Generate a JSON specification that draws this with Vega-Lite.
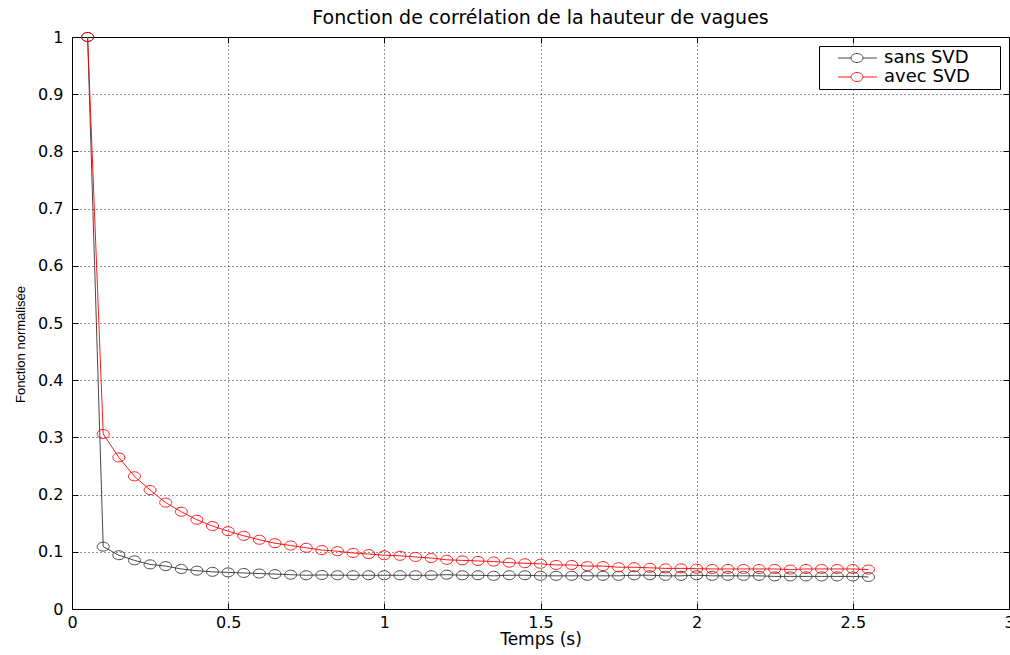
{
  "$schema": "https://vega.github.io/schema/vega-lite/v6.json",
  "width": 937,
  "height": 572,
  "autosize": "none",
  "padding": {"left": 72, "top": 37, "right": 1, "bottom": 46},
  "background": "white",
  "title": {"text": "Fonction de corrélation de la hauteur de vagues", "font": "DejaVu Sans", "fontSize": 19, "fontWeight": "normal", "color": "black", "offset": 1},
  "config": {
    "view": {"stroke": "black", "strokeWidth": 1},
    "axis": {"domainColor": "black", "tickColor": "black", "labelColor": "black", "titleColor": "black", "labelFont": "DejaVu Sans", "labelFontSize": 16, "titleFontWeight": "normal", "labelFlush": false, "labelOverlap": false}
  },
  "data": {"values": [
    {"t": 0.05, "v": 1.0, "s": "sans SVD"},
    {"t": 0.1, "v": 0.109, "s": "sans SVD"},
    {"t": 0.15, "v": 0.094, "s": "sans SVD"},
    {"t": 0.2, "v": 0.085, "s": "sans SVD"},
    {"t": 0.25, "v": 0.078, "s": "sans SVD"},
    {"t": 0.3, "v": 0.075, "s": "sans SVD"},
    {"t": 0.35, "v": 0.070, "s": "sans SVD"},
    {"t": 0.4, "v": 0.067, "s": "sans SVD"},
    {"t": 0.45, "v": 0.065, "s": "sans SVD"},
    {"t": 0.5, "v": 0.064, "s": "sans SVD"},
    {"t": 0.55, "v": 0.063, "s": "sans SVD"},
    {"t": 0.6, "v": 0.062, "s": "sans SVD"},
    {"t": 0.65, "v": 0.061, "s": "sans SVD"},
    {"t": 0.7, "v": 0.060, "s": "sans SVD"},
    {"t": 0.75, "v": 0.059, "s": "sans SVD"},
    {"t": 0.8, "v": 0.0595, "s": "sans SVD"},
    {"t": 0.85, "v": 0.059, "s": "sans SVD"},
    {"t": 0.9, "v": 0.059, "s": "sans SVD"},
    {"t": 0.95, "v": 0.059, "s": "sans SVD"},
    {"t": 1.0, "v": 0.059, "s": "sans SVD"},
    {"t": 1.05, "v": 0.059, "s": "sans SVD"},
    {"t": 1.1, "v": 0.059, "s": "sans SVD"},
    {"t": 1.15, "v": 0.059, "s": "sans SVD"},
    {"t": 1.2, "v": 0.060, "s": "sans SVD"},
    {"t": 1.25, "v": 0.059, "s": "sans SVD"},
    {"t": 1.3, "v": 0.059, "s": "sans SVD"},
    {"t": 1.35, "v": 0.058, "s": "sans SVD"},
    {"t": 1.4, "v": 0.059, "s": "sans SVD"},
    {"t": 1.45, "v": 0.059, "s": "sans SVD"},
    {"t": 1.5, "v": 0.058, "s": "sans SVD"},
    {"t": 1.55, "v": 0.058, "s": "sans SVD"},
    {"t": 1.6, "v": 0.058, "s": "sans SVD"},
    {"t": 1.65, "v": 0.058, "s": "sans SVD"},
    {"t": 1.7, "v": 0.058, "s": "sans SVD"},
    {"t": 1.75, "v": 0.058, "s": "sans SVD"},
    {"t": 1.8, "v": 0.059, "s": "sans SVD"},
    {"t": 1.85, "v": 0.059, "s": "sans SVD"},
    {"t": 1.9, "v": 0.058, "s": "sans SVD"},
    {"t": 1.95, "v": 0.058, "s": "sans SVD"},
    {"t": 2.0, "v": 0.059, "s": "sans SVD"},
    {"t": 2.05, "v": 0.058, "s": "sans SVD"},
    {"t": 2.1, "v": 0.058, "s": "sans SVD"},
    {"t": 2.15, "v": 0.058, "s": "sans SVD"},
    {"t": 2.2, "v": 0.058, "s": "sans SVD"},
    {"t": 2.25, "v": 0.057, "s": "sans SVD"},
    {"t": 2.3, "v": 0.057, "s": "sans SVD"},
    {"t": 2.35, "v": 0.057, "s": "sans SVD"},
    {"t": 2.4, "v": 0.057, "s": "sans SVD"},
    {"t": 2.45, "v": 0.057, "s": "sans SVD"},
    {"t": 2.5, "v": 0.057, "s": "sans SVD"},
    {"t": 2.55, "v": 0.056, "s": "sans SVD"},
    {"t": 0.05, "v": 1.0, "s": "avec SVD"},
    {"t": 0.1, "v": 0.306, "s": "avec SVD"},
    {"t": 0.15, "v": 0.265, "s": "avec SVD"},
    {"t": 0.2, "v": 0.232, "s": "avec SVD"},
    {"t": 0.25, "v": 0.208, "s": "avec SVD"},
    {"t": 0.3, "v": 0.186, "s": "avec SVD"},
    {"t": 0.35, "v": 0.170, "s": "avec SVD"},
    {"t": 0.4, "v": 0.156, "s": "avec SVD"},
    {"t": 0.45, "v": 0.145, "s": "avec SVD"},
    {"t": 0.5, "v": 0.136, "s": "avec SVD"},
    {"t": 0.55, "v": 0.128, "s": "avec SVD"},
    {"t": 0.6, "v": 0.121, "s": "avec SVD"},
    {"t": 0.65, "v": 0.115, "s": "avec SVD"},
    {"t": 0.7, "v": 0.111, "s": "avec SVD"},
    {"t": 0.75, "v": 0.107, "s": "avec SVD"},
    {"t": 0.8, "v": 0.103, "s": "avec SVD"},
    {"t": 0.85, "v": 0.101, "s": "avec SVD"},
    {"t": 0.9, "v": 0.098, "s": "avec SVD"},
    {"t": 0.95, "v": 0.096, "s": "avec SVD"},
    {"t": 1.0, "v": 0.094, "s": "avec SVD"},
    {"t": 1.05, "v": 0.093, "s": "avec SVD"},
    {"t": 1.1, "v": 0.091, "s": "avec SVD"},
    {"t": 1.15, "v": 0.089, "s": "avec SVD"},
    {"t": 1.2, "v": 0.086, "s": "avec SVD"},
    {"t": 1.25, "v": 0.085, "s": "avec SVD"},
    {"t": 1.3, "v": 0.084, "s": "avec SVD"},
    {"t": 1.35, "v": 0.083, "s": "avec SVD"},
    {"t": 1.4, "v": 0.081, "s": "avec SVD"},
    {"t": 1.45, "v": 0.080, "s": "avec SVD"},
    {"t": 1.5, "v": 0.079, "s": "avec SVD"},
    {"t": 1.55, "v": 0.077, "s": "avec SVD"},
    {"t": 1.6, "v": 0.077, "s": "avec SVD"},
    {"t": 1.65, "v": 0.075, "s": "avec SVD"},
    {"t": 1.7, "v": 0.075, "s": "avec SVD"},
    {"t": 1.75, "v": 0.073, "s": "avec SVD"},
    {"t": 1.8, "v": 0.073, "s": "avec SVD"},
    {"t": 1.85, "v": 0.072, "s": "avec SVD"},
    {"t": 1.9, "v": 0.071, "s": "avec SVD"},
    {"t": 1.95, "v": 0.071, "s": "avec SVD"},
    {"t": 2.0, "v": 0.0705, "s": "avec SVD"},
    {"t": 2.05, "v": 0.070, "s": "avec SVD"},
    {"t": 2.1, "v": 0.070, "s": "avec SVD"},
    {"t": 2.15, "v": 0.070, "s": "avec SVD"},
    {"t": 2.2, "v": 0.070, "s": "avec SVD"},
    {"t": 2.25, "v": 0.070, "s": "avec SVD"},
    {"t": 2.3, "v": 0.069, "s": "avec SVD"},
    {"t": 2.35, "v": 0.070, "s": "avec SVD"},
    {"t": 2.4, "v": 0.070, "s": "avec SVD"},
    {"t": 2.45, "v": 0.070, "s": "avec SVD"},
    {"t": 2.5, "v": 0.070, "s": "avec SVD"},
    {"t": 2.55, "v": 0.069, "s": "avec SVD"}
  ]},
  "encoding": {
    "color": {
      "field": "s", "type": "nominal",
      "scale": {"domain": ["sans SVD", "avec SVD"], "range": ["#333333", "#ff0000"]},
      "legend": {
        "title": null, "orient": "top-right", "offset": 9,
        "strokeColor": "black", "fillColor": "white", "padding": 3,
        "labelFont": "DejaVu Sans", "labelFontSize": 18, "labelColor": "black", "labelOffset": 44,
        "labelExpr": "datum.label + '\u2800\u2800'",
        "symbolType": "M0.875,0L2.5,0M4,0L5.75,0M2.5,0A0.75,0.5625 0 1,1 4,0A0.75,0.5625 0 1,1 2.5,0",
        "symbolSize": 256, "symbolStrokeWidth": 1, "symbolFillColor": "transparent", "rowPadding": 1
      }
    }
  },
  "layer": [
    {
      "mark": {"type": "line", "strokeWidth": 1, "opacity": 0.9},
      "encoding": {
        "x": {"field": "t", "type": "quantitative", "scale": {"domain": [0, 3], "nice": false},
          "axis": {"orient": "bottom", "values": [0, 0.5, 1, 1.5, 2, 2.5, 3], "format": "~g", "title": "Temps (s)", "titleFont": "DejaVu Sans", "titleFontSize": 17, "titlePadding": 1, "labelPadding": 11, "tickSize": -6, "grid": true, "gridColor": "black", "gridDash": [1, 3], "gridOpacity": 0.85}},
        "y": {"field": "v", "type": "quantitative", "scale": {"domain": [0, 1], "nice": false},
          "axis": {"orient": "left", "values": [0, 0.1, 0.2, 0.3, 0.4, 0.5, 0.6, 0.7, 0.8, 0.9, 1], "format": "~g", "title": "Fonction normalisée", "titleFont": "Liberation Sans", "titleFontSize": 13, "titleX": -52, "titleY": 307, "titleAngle": -90, "titleAlign": "center", "titleBaseline": "middle", "labelPadding": 15, "tickSize": -6, "grid": true, "gridColor": "black", "gridDash": [1, 3], "gridOpacity": 0.85}}
      }
    },
    {
      "mark": {"type": "point", "shape": "M-1,0A1,0.75 0 1,1 1,0A1,0.75 0 1,1 -1,0", "size": 144, "filled": false, "strokeWidth": 1, "opacity": 0.9},
      "encoding": {
        "x": {"field": "t", "type": "quantitative",
          "axis": {"orient": "top", "values": [0, 0.5, 1, 1.5, 2, 2.5, 3], "labels": false, "title": null, "tickSize": -6, "grid": false, "domain": false}},
        "y": {"field": "v", "type": "quantitative",
          "axis": {"orient": "right", "values": [0, 0.1, 0.2, 0.3, 0.4, 0.5, 0.6, 0.7, 0.8, 0.9, 1], "labels": false, "title": null, "tickSize": -6, "grid": false, "domain": false}}
      }
    }
  ],
  "resolve": {"axis": {"x": "independent", "y": "independent"}}
}
